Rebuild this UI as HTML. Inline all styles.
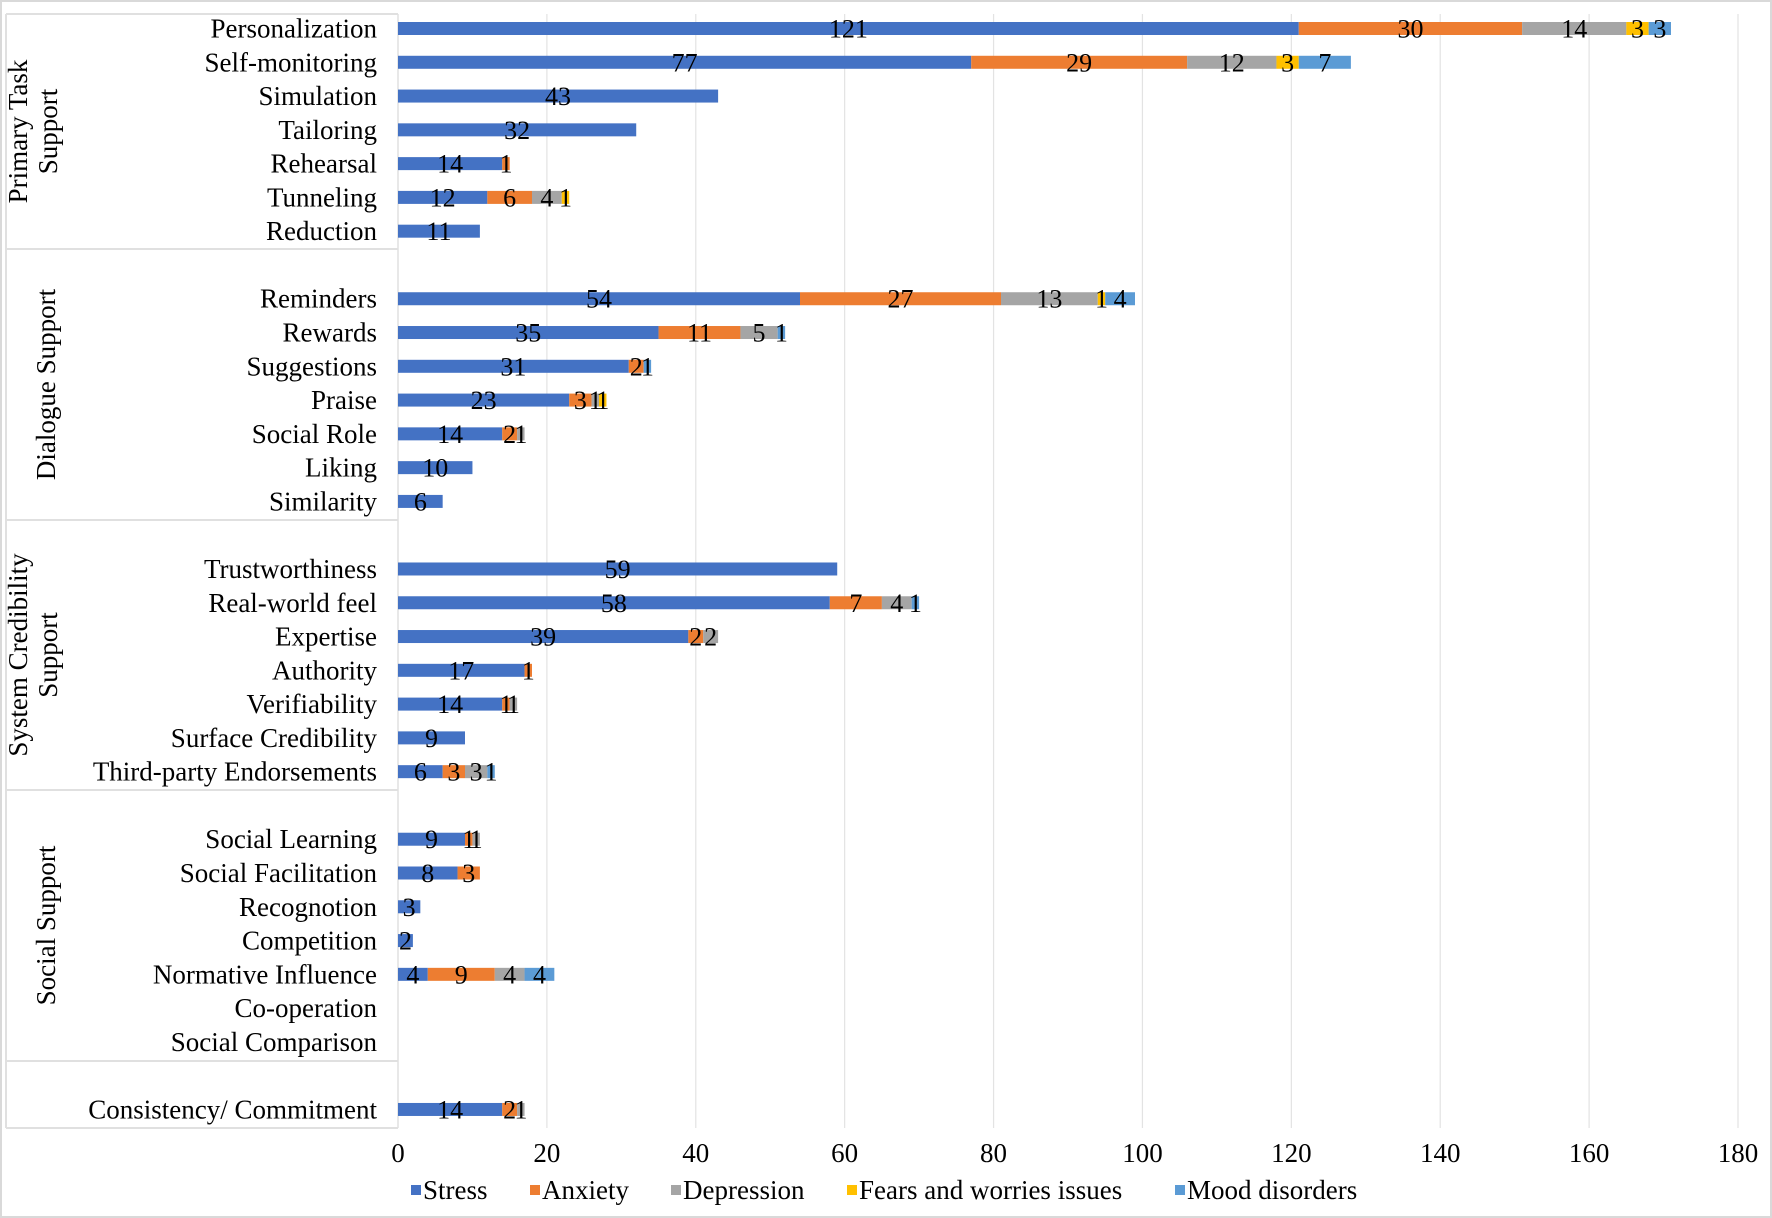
<!DOCTYPE html>
<html><head><meta charset="utf-8"><style>
html,body{margin:0;padding:0;background:#fff;}
svg{display:block;font-family:"Liberation Serif",serif;}
</style></head><body>
<svg id="chart" width="1772" height="1218" viewBox="0 0 1772 1218" xmlns="http://www.w3.org/2000/svg">
<rect x="1" y="1" width="1770" height="1216" fill="#fff" stroke="#d9d9d9" stroke-width="2"/>
<g id="grid"></g>
<g id="panel"></g>
<g id="bars"></g>
<g id="labels"></g>
<g id="axis"></g>
<g id="legend"></g>
</svg>
<script>
const categories=["Personalization","Self-monitoring","Simulation","Tailoring","Rehearsal","Tunneling","Reduction","",
"Reminders","Rewards","Suggestions","Praise","Social Role","Liking","Similarity","",
"Trustworthiness","Real-world feel","Expertise","Authority","Verifiability","Surface Credibility","Third-party Endorsements","",
"Social Learning","Social Facilitation","Recognotion","Competition","Normative Influence","Co-operation","Social Comparison","",
"Consistency/ Commitment"];
const stress =[121,77,43,32,14,12,11,0, 54,35,31,23,14,10,6,0, 59,58,39,17,14,9,6,0, 9,8,3,2,4,0,0,0, 14];
const anxiety=[30,29,0,0,1,6,0,0, 27,11,2,3,2,0,0,0, 0,7,2,1,1,0,3,0, 1,3,0,0,9,0,0,0, 2];
const depression=[14,12,0,0,0,4,0,0, 13,5,0,1,1,0,0,0, 0,4,2,0,1,0,3,0, 1,0,0,0,4,0,0,0, 1];
const fears=[3,3,0,0,0,1,0,0, 1,0,0,1,0,0,0,0, 0,0,0,0,0,0,0,0, 0,0,0,0,0,0,0,0, 0];
const mood=[3,7,0,0,0,0,0,0, 4,1,1,0,0,0,0,0, 0,1,0,0,0,0,1,0, 0,0,0,0,4,0,0,0, 0];
const seriesNames=["Stress","Anxiety","Depression","Fears and worries issues","Mood disorders"];
const xTicks=[0,20,40,60,80,100,120,140,160,180];
const groups=[["Primary Task","Support"],["Dialogue Support"],["System Credibility","Support"],["Social Support"],[]];

const series=[stress,anxiety,depression,fears,mood];
const colors=["#4472C4","#ED7D31","#A5A5A5","#FFC000","#5B9BD5"];
const NS="http://www.w3.org/2000/svg";
const X0=398,X1=1738,XMAX=180;
const xs=v=>X0+(v/XMAX)*(X1-X0);
const Y0=28.5,STEP=33.78,BH=13;
const ys=i=>Y0+i*STEP;
function mk(tag,attrs,parent){const e=document.createElementNS(NS,tag);for(const k in attrs)e.setAttribute(k,attrs[k]);parent.appendChild(e);return e;}
const grid=document.getElementById('grid'),panel=document.getElementById('panel'),bars=document.getElementById('bars'),labels=document.getElementById('labels'),axis=document.getElementById('axis'),legend=document.getElementById('legend');
xTicks.forEach(t=>{ if(t===0)return;
  const l=mk('line',{x1:xs(t),x2:xs(t),y1:14,y2:1128,stroke:'#e3e3e3','stroke-width':1.2},grid);
  
  
});
xTicks.forEach(t=>{
  const tx=mk('text',{x:xs(t),y:1162,'text-anchor':'middle','font-size':27,fill:'#000'},axis);
  tx.textContent=t;
  
  
});
const seps=[14,249,520,790,1061,1128];
mk('line',{x1:6,x2:6,y1:14,y2:1128,stroke:'#e0e0e0','stroke-width':2},panel);
mk('line',{x1:X0,x2:X0,y1:14,y2:1128,stroke:'#e0e0e0','stroke-width':1.5},panel);
seps.forEach((s,i)=>{const l=mk('line',{x1:6,x2:X0,y1:s,y2:s,stroke:'#e0e0e0','stroke-width':2},panel);
  
  });
groups.forEach((g,gi)=>{
  if(!g.length)return;
  const cy=(seps[gi]+seps[gi+1])/2;
  const cx=g.length===2?33:46;
  const t=mk('text',{transform:`translate(${cx},${cy}) rotate(-90)`,'text-anchor':'middle','font-size':27,fill:'#000'},panel);
  
  
  g.forEach((line,li)=>{const ts=mk('tspan',{x:0,y:(li-(g.length-1)/2)*30+9},t);ts.textContent=line;});
});
categories.forEach((c,i)=>{
  const y=ys(i);
  if(c){const t=mk('text',{x:377,y:y+9,'text-anchor':'end','font-size':27,fill:'#000'},labels);
    t.textContent=c;
    
    }
  let acc=0;
  series.forEach((s,si)=>{
    const v=s[i];
    if(!v)return;
    const r=mk('rect',{x:xs(acc),y:y-BH/2,width:xs(acc+v)-xs(acc),height:BH,fill:colors[si]},bars);
    
    
    const t=mk('text',{x:(xs(acc)+xs(acc+v))/2,y:y+9,'text-anchor':'middle','font-size':26,fill:'#000'},labels);
    t.textContent=v;
    
    
    acc+=v;
  });
});
const lxs=[411,530,671,847,1175];
seriesNames.forEach((n,i)=>{
  const lx=lxs[i];
  const g=mk('g',{},legend);
  
  
  mk('rect',{x:lx,y:1185,width:10,height:10,fill:colors[i]},g);
  const t=mk('text',{x:lx+12,y:1199,'font-size':27,fill:'#000'},g);
  t.textContent=n;
});
</script>
</body></html>
